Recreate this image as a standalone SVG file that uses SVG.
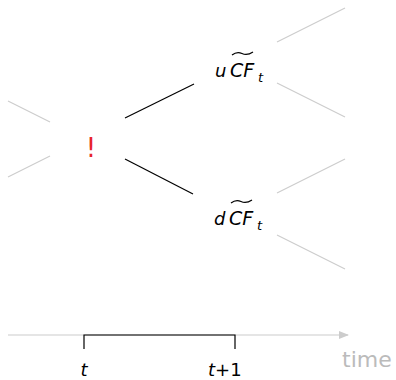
<svg xmlns="http://www.w3.org/2000/svg" width="396" height="380" viewBox="0 0 396 380">
<style>
.g{stroke:#cccccc;stroke-width:1.2;fill:none}
.b{stroke:#000;stroke-width:1.2;fill:none}
.m{font-family:"DejaVu Sans",sans-serif;font-style:italic;font-size:18px;fill:#000}
.cf{font-size:19px}
.s{font-size:13px}
</style>
<defs>
<marker id="ah" viewBox="0 0 10 8" refX="9" refY="4" markerWidth="10" markerHeight="8" markerUnits="userSpaceOnUse" orient="auto">
<path d="M0,0 L10,4 L0,8 Z" fill="#cccccc"/>
</marker>
</defs>
<g id="connectors">
<line class="g" x1="8" y1="101" x2="50" y2="122"/>
<line class="g" x1="8" y1="177" x2="50" y2="156"/>
<line class="b" x1="125" y1="118" x2="194" y2="84"/>
<line class="b" x1="125" y1="159" x2="193" y2="194"/>
<line class="g" x1="277" y1="42" x2="345" y2="8"/>
<line class="g" x1="277" y1="83" x2="345" y2="117"/>
<line class="g" x1="277" y1="193" x2="345" y2="159"/>
<line class="g" x1="277" y1="235" x2="345" y2="269"/>
</g>
<g id="root">
<text x="91" y="157" text-anchor="middle" font-family="DejaVu Sans,sans-serif" font-size="26" fill="#e8242c">!</text>
</g>
<g id="up">
<text class="m" x="215" y="77">u<tspan class="cf" x="230">CF</tspan><tspan class="s" x="258" y="82">t</tspan></text>
<path d="M232,55 Q237,51 242,53.5 Q247,56 253,52" class="b" stroke-width="1"/>
</g>
<g id="down">
<text class="m" x="214" y="225">d<tspan class="cf" x="229">CF</tspan><tspan class="s" x="257" y="230">t</tspan></text>
<path d="M231,203 Q236,199 241,201.5 Q246,204 252,200" class="b" stroke-width="1"/>
</g>
<g id="timeline">
<line class="g" x1="8" y1="335" x2="348" y2="335" marker-end="url(#ah)"/>
<path class="b" d="M84,349 V335 H235 V349"/>
<text class="m" x="84" y="376" text-anchor="middle" font-size="18">t</text>
<text class="m" x="208" y="376" font-size="18">t<tspan font-style="normal">+1</tspan></text>
<text x="342" y="367" font-family="DejaVu Sans,sans-serif" font-size="22" fill="#bbbbbb">time</text>
</g>
</svg>
